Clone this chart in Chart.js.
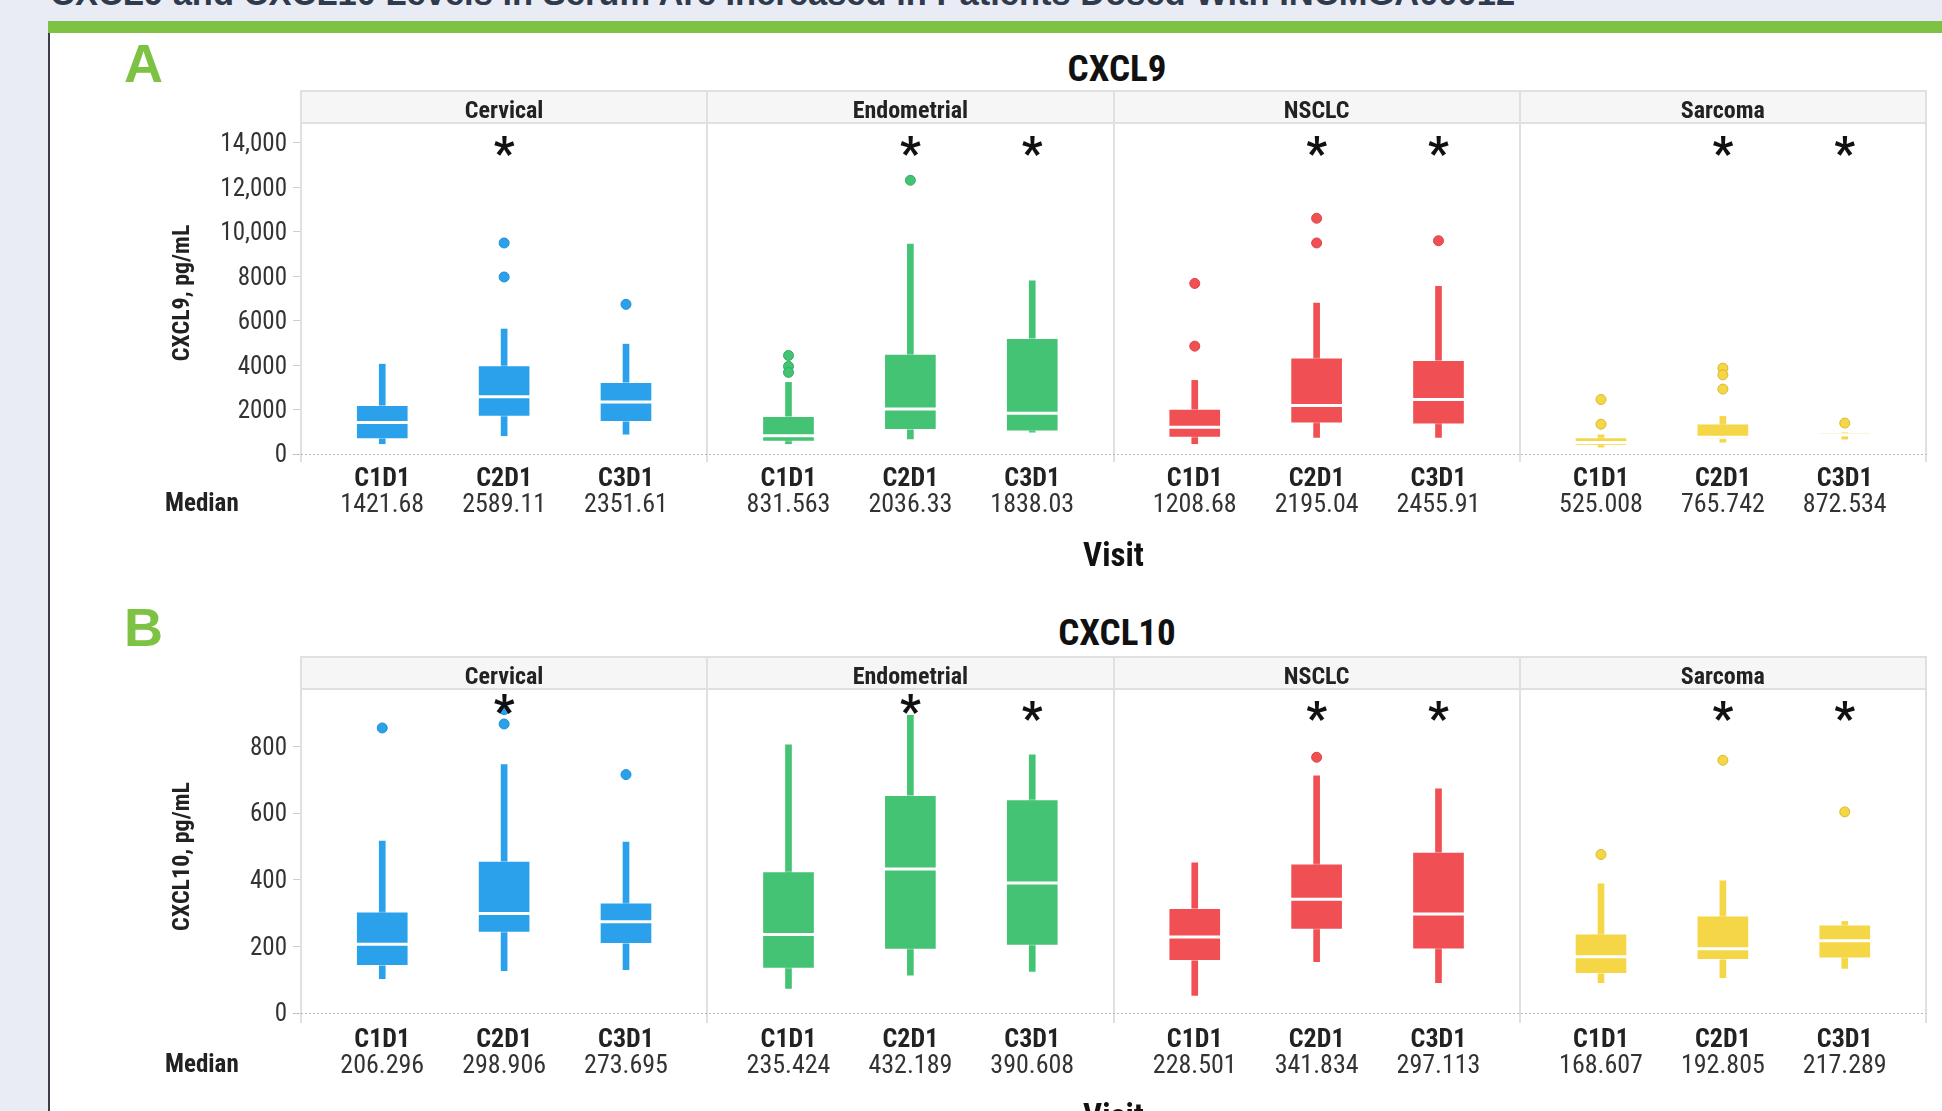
<!DOCTYPE html>
<html>
<head>
<meta charset="utf-8">
<script src="https://cdn.jsdelivr.net/npm/chart.js@4.4.1/dist/chart.umd.min.js"></script>
<style>
  html, body { margin: 0; padding: 0; width: 1942px; height: 1111px; overflow: hidden; background: #e9ecf5; }
  #headline { position: absolute; left: 50px; top: -23px; font: bold 34.5px 'Liberation Sans', Arial, sans-serif;
              color: #2f3a4c; white-space: nowrap; line-height: 32px; }
  #bar { position: absolute; left: 48px; top: 21px; width: 1894px; height: 12px; background: #7dc243; }
  #sheet { position: absolute; left: 48px; top: 33px; width: 1894px; height: 1078px; background: #fff;
           border-left: 2px solid #3a3f4a; box-sizing: border-box; }
  .tag { position: absolute; left: 124px; font: bold 54px 'Liberation Sans', Arial, sans-serif; color: #7dc243; line-height: 1; }
  .ttl { position: absolute; font: bold 37px 'Liberation Sans Narrow', 'Arial Narrow', 'Roboto Condensed', 'Noto Sans Condensed', 'DejaVu Sans Condensed', sans-serif;
         color: #111; line-height: 1; transform: translate(-50%, -50%); white-space: nowrap; }
  canvas { position: absolute; left: 48px; }
</style>
</head>
<body>
<div id="headline">CXCL9 and CXCL10 Levels in Serum Are Increased in Patients Dosed With INCMGA00012</div>
<div id="bar"></div>
<div id="sheet"></div>
<div class="tag" style="top:36px">A</div>
<div class="ttl" style="left:1117px; top:68px">CXCL9</div>
<div class="tag" style="top:600px">B</div>
<div class="ttl" style="left:1117px; top:632px">CXCL10</div>
<canvas id="cxcl9" width="1894" height="541" style="top:33px; width:1894px; height:541px"></canvas>
<canvas id="cxcl10" width="1894" height="536" style="top:599px; width:1894px; height:536px"></canvas>

<script>
// ---- shared categories ----
const facets = ['Cervical', 'Endometrial', 'NSCLC', 'Sarcoma'];
const visits = ['C1D1', 'C2D1', 'C3D1'];
// significance markers per facet/visit (facet-major order)
const significant = [false, true, false,  false, true, true,  false, true, true,  false, true, true];

// ---- CXCL9, pg/mL (facet-major: Cervical C1..C3, Endometrial C1..C3, NSCLC, Sarcoma) ----
const cxcl9Median = [1421.68, 2589.11, 2351.61, 831.563, 2036.33, 1838.03, 1208.68, 2195.04, 2455.91, 525.008, 765.742, 872.534];
const cxcl9Q1     = [690, 1700, 1460, 570, 1100, 1040, 750, 1400, 1350, 390, 680, 800];
const cxcl9Q3     = [2200, 3990, 3230, 1700, 4500, 5210, 2030, 4340, 4220, 750, 1370, 980];
const cxcl9Low    = [470, 830, 900, 470, 690, 990, 470, 750, 750, 320, 540, 680];
const cxcl9High   = [4050, 5630, 4950, 3230, 9450, 7800, 3320, 6800, 7550, 870, 1700, 980];
const cxcl9Outliers = [[], [9500, 7970], [6740], [4440, 3950, 3680], [12320], [], [7680, 4860], [10610, 9500], [9600], [2460, 1350], [3870, 3570, 2930], [1400]];
const cxcl9Ticks  = [0, 2000, 4000, 6000, 8000, 10000, 12000, 14000];

// ---- CXCL10, pg/mL ----
const cxcl10Median = [206.296, 298.906, 273.695, 235.424, 432.189, 390.608, 228.501, 341.834, 297.113, 168.607, 192.805, 217.289];
const cxcl10Q1     = [142, 242, 208, 134, 191, 203, 157, 251, 192, 118, 160, 165];
const cxcl10Q3     = [304, 456, 331, 425, 654, 641, 314, 448, 483, 238, 292, 265];
const cxcl10Low    = [103, 127, 130, 74, 114, 125, 53, 154, 91, 91, 106, 134];
const cxcl10High   = [516, 746, 513, 805, 894, 775, 451, 712, 673, 388, 397, 275];
const cxcl10Outliers = [[856], [868, 911], [716], [], [], [], [], [768], [], [476], [759], [604]];
const cxcl10Ticks  = [0, 200, 400, 600, 800];

// ---- styling ----
const NARROW = "'Liberation Sans Narrow', 'Arial Narrow', 'Roboto Condensed', 'Noto Sans Condensed', 'DejaVu Sans Condensed', sans-serif";
Chart.defaults.font.family = NARROW;
const facetColors = ['#2aa1ea', '#43c373', '#f05053', '#f4d647'];
const facetEdge   = ['#1f8fd6', '#33ad61', '#d94346', '#d8b92e'];
const LABEL_PAD = 4;   // gap between an axis row and its text
const ROW_FONT = 26;   // visit / median row text size

// x position of each facet/visit slot on a 0..4 linear axis (one unit per facet)
const slot = i => Math.floor(i / 3) + 0.2 + 0.3 * (i % 3);
const slots = cxcl9Median.map((_, i) => slot(i));

function fmtTick(v) {
  return v >= 10000 ? v.toLocaleString('en-US') : String(v);
}

// bottom rows sit inside the facets, so no edge padding is needed for them
function fixRow(height) {
  return s => { s.height = height; s.paddingLeft = 0; s.paddingRight = 0; };
}

const facetDecor = {
  id: 'facetDecor',
  beforeDatasetsDraw(chart, args, o) {
    const { ctx, chartArea: a, scales: { x, y } } = chart;
    const top = a.top - o.stripHeight;
    ctx.save();
    facets.forEach((name, f) => {
      const l = x.getPixelForValue(f), r = x.getPixelForValue(f + 1);
      ctx.fillStyle = '#f6f6f6';
      ctx.fillRect(l, top, r - l, o.stripHeight);
      ctx.fillStyle = '#222';
      ctx.font = 'bold 24px ' + NARROW;
      ctx.textAlign = 'center';
      ctx.textBaseline = 'middle';
      ctx.fillText(name, (l + r) / 2, top + o.stripHeight / 2 + 5);
    });
    ctx.strokeStyle = '#e0e0e0';
    ctx.lineWidth = 2;
    ctx.beginPath();
    ctx.moveTo(x.getPixelForValue(0), top + 1); ctx.lineTo(x.getPixelForValue(4), top + 1);
    ctx.moveTo(x.getPixelForValue(0), a.top - 1); ctx.lineTo(x.getPixelForValue(4), a.top - 1);
    for (let f = 0; f <= 4; f++) {
      const px = Math.round(x.getPixelForValue(f));
      ctx.moveTo(px, top); ctx.lineTo(px, a.bottom);
    }
    ctx.stroke();
    // dotted zero reference
    const y0 = Math.round(y.getPixelForValue(0)) + 0.5;
    ctx.setLineDash([2, 2]);
    ctx.strokeStyle = '#b8b8b8';
    ctx.lineWidth = 1;
    ctx.beginPath();
    ctx.moveTo(a.left - 8, y0); ctx.lineTo(a.right, y0);
    ctx.stroke();
    ctx.restore();
  },
  afterDraw(chart, args, o) {
    const { ctx, chartArea: a, scales: { x, x2 } } = chart;
    ctx.save();
    ctx.fillStyle = '#111';
    ctx.font = 'bold 46px ' + NARROW;
    ctx.textAlign = 'center';
    ctx.textBaseline = 'alphabetic';
    const m = ctx.measureText('*');
    const mid = (m.actualBoundingBoxAscent - m.actualBoundingBoxDescent) / 2;
    significant.forEach((s, i) => {
      if (!s) return;
      const cy = a.top + (o.raised.includes(i) ? o.raisedOffset : o.starOffset);
      ctx.fillText('*', x.getPixelForValue(slot(i)), cy + mid);
    });
    // row caption for the median values
    ctx.fillStyle = '#222';
    ctx.font = 'bold 25px ' + NARROW;
    ctx.textAlign = 'left';
    ctx.textBaseline = 'middle';
    ctx.fillText('Median', 117, x2.top + LABEL_PAD + ROW_FONT / 2);
    ctx.restore();
  }
};

function buildChart(id, cfg) {
  const datasets = [];
  const colors = slots.map((_, i) => facetColors[Math.floor(i / 3)]);
  datasets.push({
    type: 'bar', label: 'whisker', xAxisID: 'x', yAxisID: 'y',
    data: slots.map((p, i) => ({ x: p, y: [cfg.low[i], cfg.high[i]] })),
    backgroundColor: colors, barThickness: 6, grouped: false, order: 4
  });
  datasets.push({
    type: 'bar', label: 'box', xAxisID: 'x', yAxisID: 'y',
    data: slots.map((p, i) => ({ x: p, y: [cfg.q1[i], cfg.q3[i]] })),
    backgroundColor: colors, borderColor: 'rgba(255,255,255,0.45)', borderWidth: 1,
    borderSkipped: false, barThickness: 52, grouped: false, order: 3
  });
  datasets.push({
    type: 'scatter', label: 'median', xAxisID: 'x', yAxisID: 'y',
    data: slots.map((p, i) => ({ x: p, y: cfg.median[i] })),
    pointStyle: 'line', pointRadius: 26, pointHoverRadius: 26,
    pointBorderColor: '#ffffff', pointBorderWidth: 3, order: 2
  });
  const outPts = [], outFill = [], outEdge = [];
  cfg.outliers.forEach((list, i) => list.forEach(v => {
    outPts.push({ x: slots[i], y: v });
    outFill.push(facetColors[Math.floor(i / 3)]);
    outEdge.push(facetEdge[Math.floor(i / 3)]);
  }));
  datasets.push({
    type: 'scatter', label: 'outlier', xAxisID: 'x', yAxisID: 'y',
    data: outPts, pointRadius: 5, pointHoverRadius: 5,
    pointBackgroundColor: outFill, pointBorderColor: outEdge, pointBorderWidth: 1, order: 1
  });

  return new Chart(document.getElementById(id), {
    type: 'bar',
    data: { datasets },
    plugins: [facetDecor],
    options: {
      responsive: false, animation: false, devicePixelRatio: 1, events: [],
      layout: { autoPadding: false, padding: { top: 91, right: 16, left: 0, bottom: 0 } },
      plugins: {
        legend: { display: false }, tooltip: { enabled: false },
        facetDecor: { stripHeight: 34, starOffset: cfg.starOffset, raisedOffset: cfg.raisedOffset, raised: cfg.raised }
      },
      scales: {
        x: {
          type: 'linear', position: 'bottom', weight: 1, min: 0, max: 4, offset: false,
          afterBuildTicks: s => { s.ticks = slots.map(v => ({ value: v })); },
          afterFit: fixRow(26),
          ticks: { autoSkip: false, maxRotation: 0, padding: LABEL_PAD, color: '#222',
                   font: { size: ROW_FONT, weight: 'bold', lineHeight: 1 },
                   callback: (v, i) => visits[i % 3] },
          grid: { display: false, drawTicks: false }, border: { display: false }
        },
        x2: {
          type: 'linear', position: 'bottom', weight: 2, min: 0, max: 4, offset: false,
          afterBuildTicks: s => { s.ticks = slots.map(v => ({ value: v })); },
          afterFit: fixRow(86),
          ticks: { autoSkip: false, maxRotation: 0, padding: LABEL_PAD, color: '#333',
                   font: { size: ROW_FONT, lineHeight: 1 },
                   callback: (v, i) => String(cfg.median[i]) },
          grid: { display: false, drawTicks: false }, border: { display: false },
          title: { display: true, text: 'Visit', color: '#111',
                   font: { size: 33, weight: 'bold', lineHeight: 1 }, padding: { top: 0, bottom: 0 } }
        },
        y: {
          min: cfg.yMin, max: cfg.yMax,
          afterBuildTicks: s => { s.ticks = cfg.ticks.map(v => ({ value: v })); },
          afterFit: s => { s.width = 253; },
          ticks: { padding: 6, labelOffset: 2, color: '#333', font: { size: 25, lineHeight: 1 }, callback: v => fmtTick(v) },
          grid: { drawOnChartArea: false, drawTicks: true, tickLength: 8, tickColor: '#cfcfcf', tickWidth: 1 },
          border: { display: false },
          title: { display: true, text: cfg.yTitle, color: '#222',
                   font: { size: 24, weight: 'bold', lineHeight: 1 }, padding: { top: 123, bottom: 0 } }
        }
      }
    }
  });
}

buildChart('cxcl9', {
  median: cxcl9Median, q1: cxcl9Q1, q3: cxcl9Q3, low: cxcl9Low, high: cxcl9High,
  outliers: cxcl9Outliers, ticks: cxcl9Ticks, yMin: -350, yMax: 14850,
  yTitle: 'CXCL9, pg/mL', starOffset: 22, raisedOffset: 22, raised: []
});
buildChart('cxcl10', {
  median: cxcl10Median, q1: cxcl10Q1, q3: cxcl10Q3, low: cxcl10Low, high: cxcl10High,
  outliers: cxcl10Outliers, ticks: cxcl10Ticks, yMin: -30, yMax: 970,
  yTitle: 'CXCL10, pg/mL', starOffset: 21, raisedOffset: 14, raised: [1, 4]
});
</script>
</body>
</html>
